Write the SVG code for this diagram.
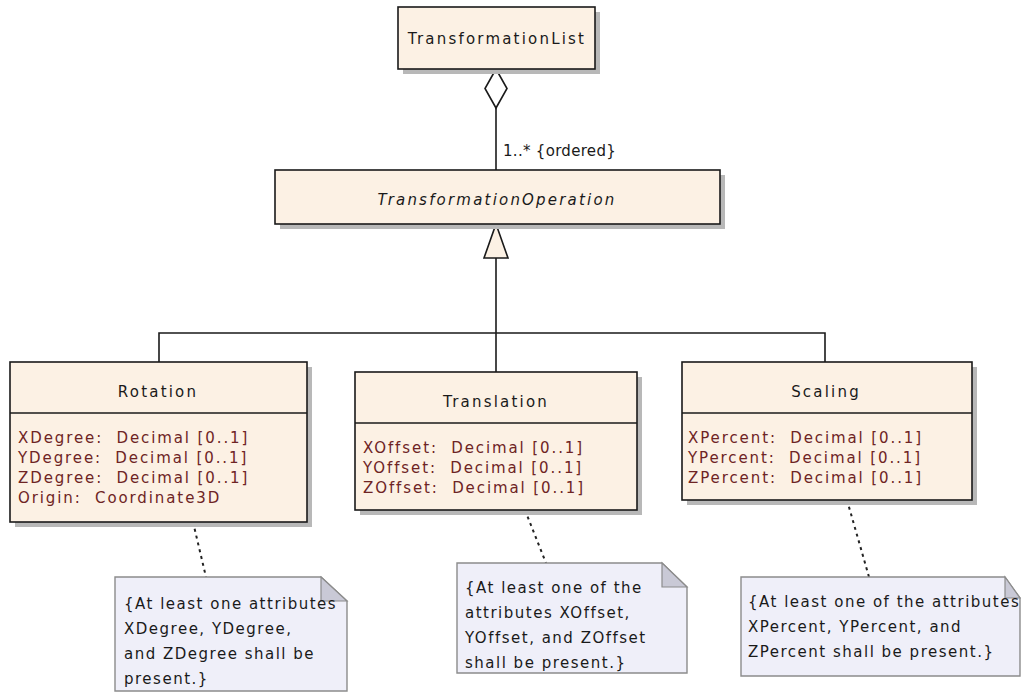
<svg xmlns="http://www.w3.org/2000/svg" width="1022" height="692" viewBox="0 0 1022 692">
<defs>
<style>
.box{fill:#fcf1e4;stroke:#1a1a1a;stroke-width:1.6}
.shadow{fill:#b8b8b8}
.div{stroke:#1a1a1a;stroke-width:1.4}
.title{font-family:"DejaVu Sans",sans-serif;font-size:15px;letter-spacing:2.2px;fill:#1a1a1a;text-anchor:middle}
.attr{font-family:"DejaVu Sans",sans-serif;font-size:15px;letter-spacing:1.9px;fill:#6e2424;white-space:pre}
.note{fill:#efeff9;stroke:#8c8c8c;stroke-width:1.4}
.fold{fill:#c9c9d6;stroke:#8c8c8c;stroke-width:1.2}
.ntext{font-family:"DejaVu Sans",sans-serif;font-size:15px;letter-spacing:1.5px;fill:#1a1a1a}
.line{stroke:#1a1a1a;stroke-width:1.6;fill:none}
.dot{stroke:#222222;stroke-width:2;fill:none;stroke-dasharray:3,4}
.lbl{font-family:"DejaVu Sans",sans-serif;font-size:15px;letter-spacing:0.3px;fill:#1a1a1a}
</style>
</defs>
<rect width="1022" height="692" fill="#ffffff"/>

<g id="connectors">
<line class="line" x1="496" y1="108" x2="496" y2="170"/>
<polygon points="496,69 507,88.5 496,108 485,88.5" fill="#ffffff" stroke="#1a1a1a" stroke-width="1.6"/>
<text class="lbl" x="503" y="156">1..* {ordered}</text>
<line class="line" x1="496" y1="258" x2="496" y2="372"/>
<polyline class="line" points="159,362 159,333 825,333 825,362"/>
<polygon points="496,224 508,258 484,258" fill="#fcf1e4" stroke="#1a1a1a" stroke-width="1.6"/>
<line class="dot" x1="193" y1="522" x2="206" y2="577"/>
<line class="dot" x1="525" y1="510" x2="546" y2="563"/>
<line class="dot" x1="847" y1="500" x2="869" y2="577"/>
</g>

<g id="TransformationList">
<rect class="shadow" x="403" y="12" width="197" height="62"/>
<rect class="box" x="398" y="7" width="197" height="62"/>
<text class="title" x="497" y="44">TransformationList</text>
</g>

<g id="TransformationOperation">
<rect class="shadow" x="280" y="175" width="445" height="54"/>
<rect class="box" x="275" y="170" width="445" height="54"/>
<text class="title" x="497" y="205" font-style="italic">TransformationOperation</text>
</g>

<g id="Rotation">
<rect class="shadow" x="15" y="367" width="297" height="160"/>
<rect class="box" x="10" y="362" width="297" height="160"/>
<line class="div" x1="10" y1="413" x2="307" y2="413"/>
<text class="title" x="158" y="397">Rotation</text>
<text class="attr" x="18" y="443">XDegree:  Decimal [0..1]</text>
<text class="attr" x="18" y="463">YDegree:  Decimal [0..1]</text>
<text class="attr" x="18" y="483">ZDegree:  Decimal [0..1]</text>
<text class="attr" x="18" y="503">Origin:  Coordinate3D</text>
</g>

<g id="Translation">
<rect class="shadow" x="360" y="377" width="282" height="138"/>
<rect class="box" x="355" y="372" width="282" height="138"/>
<line class="div" x1="355" y1="423" x2="637" y2="423"/>
<text class="title" x="496" y="407">Translation</text>
<text class="attr" x="363" y="453">XOffset:  Decimal [0..1]</text>
<text class="attr" x="363" y="473">YOffset:  Decimal [0..1]</text>
<text class="attr" x="363" y="493">ZOffset:  Decimal [0..1]</text>
</g>

<g id="Scaling">
<rect class="shadow" x="687" y="367" width="290" height="138"/>
<rect class="box" x="682" y="362" width="290" height="138"/>
<line class="div" x1="682" y1="413" x2="972" y2="413"/>
<text class="title" x="826" y="397">Scaling</text>
<text class="attr" x="688" y="443">XPercent:  Decimal [0..1]</text>
<text class="attr" x="688" y="463">YPercent:  Decimal [0..1]</text>
<text class="attr" x="688" y="483">ZPercent:  Decimal [0..1]</text>
</g>

<g id="note-rotation">
<path class="note" d="M115,577 H321 L347,601 V691 H115 Z"/>
<path class="fold" d="M321,577 L347,601 H321 Z"/>
<text class="ntext" x="124" y="609">{At least one attributes</text>
<text class="ntext" x="124" y="634">XDegree, YDegree,</text>
<text class="ntext" x="124" y="659">and ZDegree shall be</text>
<text class="ntext" x="124" y="684">present.}</text>
</g>

<g id="note-translation">
<path class="note" d="M457,563 H662 L687,587 V673 H457 Z"/>
<path class="fold" d="M662,563 L687,587 H662 Z"/>
<text class="ntext" x="465" y="593">{At least one of the</text>
<text class="ntext" x="465" y="618">attributes XOffset,</text>
<text class="ntext" x="465" y="643">YOffset, and ZOffset</text>
<text class="ntext" x="465" y="668">shall be present.}</text>
</g>

<g id="note-scaling">
<path class="note" d="M741,577 H1005 L1020,598 V676 H741 Z"/>
<path class="fold" d="M1005,577 L1020,598 H1005 Z"/>
<text class="ntext" x="748" y="607">{At least one of the attributes</text>
<text class="ntext" x="748" y="632">XPercent, YPercent, and</text>
<text class="ntext" x="748" y="657">ZPercent shall be present.}</text>
</g>
</svg>
